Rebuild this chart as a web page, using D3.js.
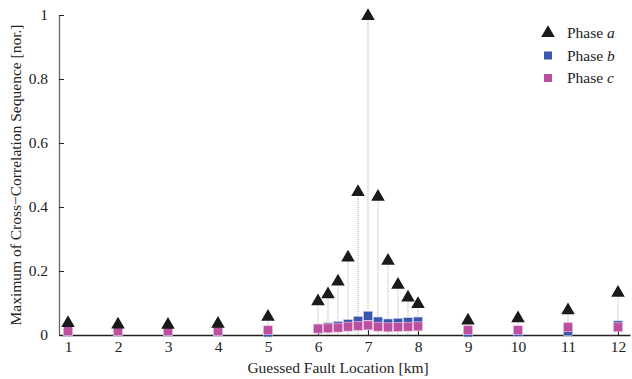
<!DOCTYPE html>
<html>
<head>
<meta charset="utf-8">
<script src="https://cdn.jsdelivr.net/npm/d3@7"></script>
<style>
  body { margin: 0; background: #fff; }
  text { font-family: "Liberation Serif", "Times New Roman", serif; fill: #222; }
</style>
</head>
<body>
<div class="chart"></div>
<script>
// fault locations [km]
const locations = [1, 2, 3, 4, 5, 6, 6.2, 6.4, 6.6, 6.8, 7, 7.2, 7.4, 7.6, 7.8, 8, 9, 10, 11, 12];
const phaseA = [0.040, 0.036, 0.035, 0.038, 0.060, 0.108, 0.130, 0.170, 0.245, 0.450, 1.000, 0.435, 0.235, 0.160, 0.120, 0.100, 0.048, 0.055, 0.080, 0.135];
const phaseB = [0.010, 0.010, 0.010, 0.010, 0.008, 0.020, 0.024, 0.028, 0.034, 0.044, 0.060, 0.042, 0.036, 0.038, 0.040, 0.042, 0.008, 0.010, 0.012, 0.030];
const phaseC = [0.012, 0.012, 0.012, 0.012, 0.015, 0.020, 0.021, 0.023, 0.026, 0.028, 0.030, 0.026, 0.024, 0.025, 0.026, 0.027, 0.015, 0.015, 0.025, 0.024];
const xTicks = [1, 2, 3, 4, 5, 6, 7, 8, 9, 10, 11, 12];
const yTicks = [0, 0.2, 0.4, 0.6, 0.8, 1];

const width = 632, height = 379;
const margin = {top: 15, right: 2, bottom: 44, left: 59};

const svg = d3.select(".chart").append("svg")
  .attr("width", width).attr("height", height);

const x = d3.scaleLinear().domain([0.82, 12.24]).range([margin.left, width - margin.right]);
const y = d3.scaleLinear().domain([0, 1]).range([height - margin.bottom, margin.top]);

const data = locations.map((d, i) => ({km: d, a: phaseA[i], b: phaseB[i], c: phaseC[i]}));

// dotted stems
svg.append("g").selectAll("line")
  .data(data).enter().append("line")
  .attr("x1", d => x(d.km)).attr("x2", d => x(d.km))
  .attr("y1", d => y(d.a)).attr("y2", y(0))
  .attr("stroke", "#bbb").attr("stroke-width", 1.2)
  .attr("stroke-dasharray", "1,1");

// axes
const xAxis = d3.axisBottom(x).tickValues(xTicks).tickSize(0).tickPadding(6).tickFormat(d3.format("d"));
const gx = svg.append("g").attr("transform", `translate(0,${y(0)})`).call(xAxis);
gx.select(".domain").attr("stroke", "#222").attr("stroke-width", 1.3);
gx.selectAll("text").attr("font-size", 15.5).attr("fill", "#222");
gx.selectAll(".tick").append("line").attr("y1", 0).attr("y2", -5).attr("stroke", "#222");

const yAxis = d3.axisLeft(y).tickValues(yTicks).tickSize(0).tickPadding(11).tickFormat(d => d === 0 || d === 1 ? d : d3.format(".1f")(d));
const gy = svg.append("g").attr("transform", `translate(${margin.left},0)`).call(yAxis);
gy.select(".domain").attr("stroke", "#666").attr("stroke-width", 1.3);
gy.selectAll("text").attr("font-size", 15.5).attr("fill", "#222");
gy.selectAll(".tick").append("line").attr("x1", 0).attr("x2", 5).attr("stroke", "#222");

const tri = d3.symbol().type(d3.symbolTriangle).size(80);
const sq = 9;

// phase b squares
svg.append("g").selectAll("rect")
  .data(data).enter().append("rect")
  .attr("x", d => x(d.km) - sq / 2).attr("y", d => y(d.b) - sq / 2)
  .attr("width", sq).attr("height", sq)
  .attr("fill", "#3957ad").attr("stroke", "#c9d1ec").attr("stroke-width", 0.6);

// phase c squares
svg.append("g").selectAll("rect")
  .data(data).enter().append("rect")
  .attr("x", d => x(d.km) - sq / 2).attr("y", d => y(d.c) - sq / 2)
  .attr("width", sq).attr("height", sq)
  .attr("fill", "#bd4fa1").attr("stroke", "#efd0e6").attr("stroke-width", 0.6);

// phase a triangles
svg.append("g").selectAll("path")
  .data(data).enter().append("path")
  .attr("transform", d => `translate(${x(d.km)},${y(d.a) + 1})`)
  .attr("d", tri).attr("fill", "#1a1a1a");

// axis titles
svg.append("text").attr("x", 338).attr("y", 373)
  .attr("text-anchor", "middle").attr("font-size", 15.5).text("Guessed Fault Location [km]");
svg.append("text").attr("transform", `translate(21,${(margin.top + height - margin.bottom) / 2}) rotate(-90)`)
  .attr("text-anchor", "middle").attr("font-size", 15.5).text("Maximum of Cross\u2212Correlation Sequence [nor.]");

// legend
const legend = [{n: "a", c: "#1a1a1a"}, {n: "b", c: "#3957ad"}, {n: "c", c: "#bd4fa1"}];
const lg = svg.append("g").selectAll("g").data(legend).enter().append("g")
  .attr("transform", (d, i) => `translate(548,${33 + i * 22.5})`);
lg.filter(d => d.n === "a").append("path").attr("d", tri).attr("fill", d => d.c);
lg.filter(d => d.n !== "a").append("rect").attr("x", -4).attr("y", -4).attr("width", 8).attr("height", 8).attr("fill", d => d.c);
const lt = lg.append("text").attr("x", 19).attr("y", 5).attr("font-size", 15.5);
lt.append("tspan").text("Phase ");
lt.append("tspan").attr("font-style", "italic").text(d => d.n);
</script>
</body>
</html>
